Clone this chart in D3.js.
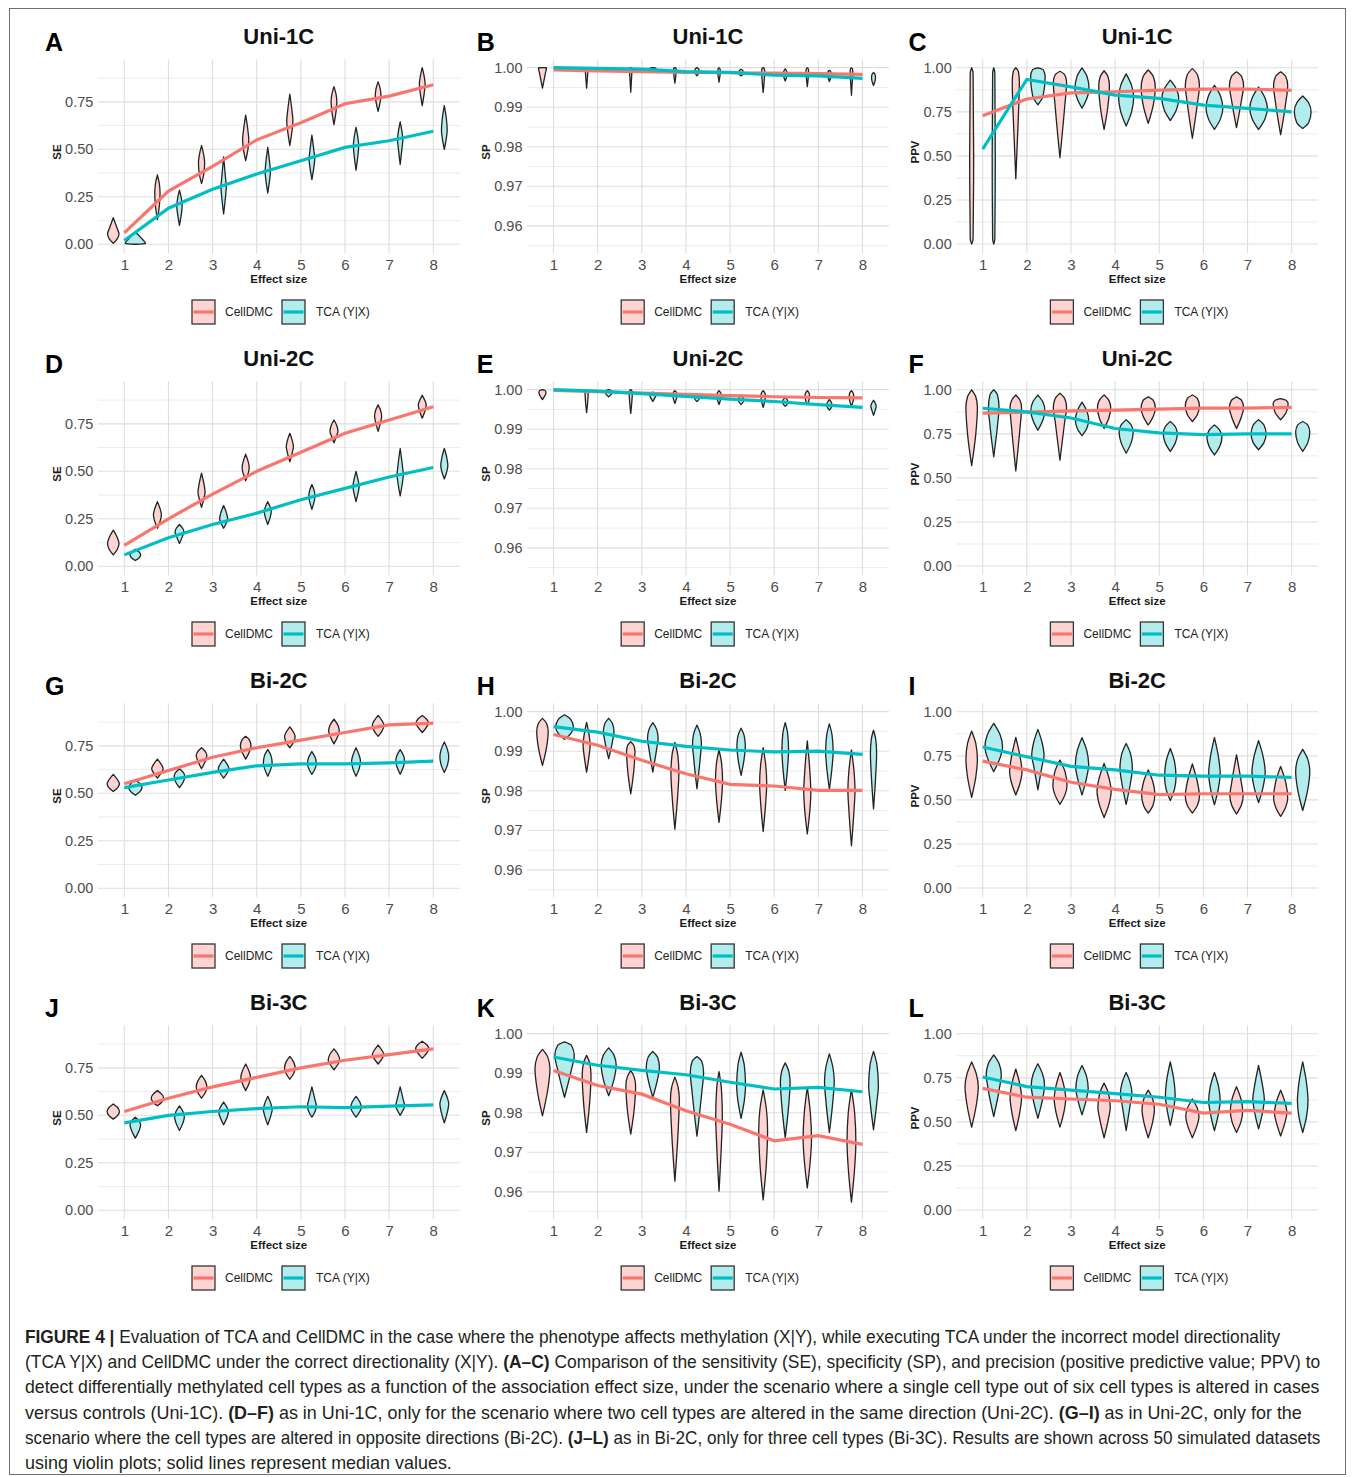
<!DOCTYPE html>
<html><head><meta charset="utf-8">
<script src="https://cdn.jsdelivr.net/npm/d3@7"></script>
<style>
body{margin:0;background:#fff;}
svg{display:block;font-family:"Liberation Sans",Arial,sans-serif;}
</style></head><body>
<svg id="fig" width="1355" height="1477"></svg>
<script>
// ---------------- DATA ----------------
const effectSizes = [1, 2, 3, 4, 5, 6, 7, 8];
const methods = ["CellDMC", "TCA (Y|X)"];
const panelLetters = ["A","B","C","D","E","F","G","H","I","J","K","L"];
const scenarios = ["Uni-1C","Uni-1C","Uni-1C","Uni-2C","Uni-2C","Uni-2C","Bi-2C","Bi-2C","Bi-2C","Bi-3C","Bi-3C","Bi-3C"];
const metrics = ["SE","SP","PPV"];
const xAxisTitle = "Effect size";
const seTicks = [0, 0.25, 0.5, 0.75];
const spTicks = [0.96, 0.97, 0.98, 0.99, 1.00];
const ppvTicks = [0, 0.25, 0.5, 0.75, 1.00];

// medians (solid lines)
const medA_cell = [0.06, 0.28, 0.41, 0.55, 0.64, 0.74, 0.78, 0.84];
const medA_tca  = [0.02, 0.19, 0.29, 0.37, 0.44, 0.51, 0.545, 0.595];
const medB_cell = [0.9994, 0.9992, 0.999, 0.9988, 0.9987, 0.9986, 0.9985, 0.9983];
const medB_tca  = [1.0, 0.9998, 0.9996, 0.999, 0.9988, 0.9981, 0.9979, 0.9973];
const medC_cell = [0.728, 0.823, 0.858, 0.864, 0.873, 0.879, 0.879, 0.872];
const medC_tca  = [0.539, 0.934, 0.892, 0.845, 0.826, 0.788, 0.77, 0.75];
const medD_cell = [0.11, 0.25, 0.38, 0.50, 0.60, 0.70, 0.77, 0.84];
const medD_tca  = [0.06, 0.15, 0.22, 0.28, 0.35, 0.41, 0.47, 0.52];
const medE_cell = [0.9998, 0.9995, 0.9991, 0.9988, 0.9985, 0.9982, 0.998, 0.9979];
const medE_tca  = [1.0, 0.9996, 0.999, 0.9983, 0.9976, 0.997, 0.9962, 0.9955];
const medF_cell = [0.868, 0.873, 0.88, 0.885, 0.89, 0.896, 0.896, 0.9];
const medF_tca  = [0.895, 0.875, 0.84, 0.78, 0.755, 0.745, 0.75, 0.75];
const medG_cell = [0.55, 0.62, 0.69, 0.74, 0.78, 0.82, 0.86, 0.87];
const medG_tca  = [0.53, 0.57, 0.61, 0.645, 0.655, 0.655, 0.66, 0.67];
const medH_cell = [0.9942, 0.9915, 0.9877, 0.9843, 0.9816, 0.9812, 0.9801, 0.9801];
const medH_tca  = [0.9962, 0.9948, 0.9925, 0.9912, 0.9903, 0.9898, 0.99, 0.9892];
const medI_cell = [0.72, 0.67, 0.60, 0.56, 0.53, 0.535, 0.535, 0.535];
const medI_tca  = [0.80, 0.745, 0.69, 0.67, 0.64, 0.635, 0.635, 0.628];
const medJ_cell = [0.52, 0.59, 0.65, 0.70, 0.75, 0.79, 0.82, 0.85];
const medJ_tca  = [0.46, 0.50, 0.52, 0.535, 0.545, 0.54, 0.548, 0.555];
const medK_cell = [0.9907, 0.9869, 0.9847, 0.9805, 0.9771, 0.9729, 0.9742, 0.972];
const medK_tca  = [0.9941, 0.992, 0.9907, 0.9896, 0.9877, 0.986, 0.9864, 0.9853];
const medL_cell = [0.69, 0.64, 0.63, 0.62, 0.60, 0.55, 0.565, 0.55];
const medL_tca  = [0.755, 0.70, 0.68, 0.66, 0.64, 0.61, 0.615, 0.605];

// violins: [min, lower shoulder, densest value, upper shoulder, max, max half-width (x units)]
const vioA_cell = [[0.005,0.03,0.055,0.08,0.14,0.13],[0.13,0.2,0.27,0.32,0.365,0.06],[0.32,0.37,0.43,0.47,0.52,0.07],[0.44,0.5,0.55,0.6,0.68,0.07],[0.52,0.6,0.65,0.7,0.79,0.07],[0.63,0.7,0.75,0.79,0.83,0.065],[0.70,0.75,0.78,0.82,0.855,0.065],[0.73,0.8,0.845,0.88,0.93,0.065]];
const vioA_tca  = [[0,0.002,0.004,0.025,0.065,0.23],[0.1,0.16,0.2,0.24,0.285,0.06],[0.16,0.25,0.3,0.35,0.46,0.06],[0.27,0.34,0.38,0.43,0.51,0.06],[0.34,0.41,0.45,0.49,0.575,0.065],[0.39,0.47,0.52,0.56,0.615,0.06],[0.42,0.51,0.55,0.59,0.645,0.06],[0.5,0.56,0.6,0.66,0.73,0.065]];
const vioB_cell = [[0.9948,0.9985,0.99993,0.99997,1.0,0.09],[0.9948,0.998,0.9998,0.99995,1.0,0.03],[0.9938,0.998,0.9998,0.99995,1.0,0.03],[0.9961,0.998,0.9995,0.9999,1.0,0.03],[0.9963,0.998,0.999,0.9997,1.0,0.03],[0.9937,0.997,0.999,0.9997,1.0,0.035],[0.9952,0.9975,0.999,0.9997,1.0,0.03],[0.993,0.997,0.999,0.9997,1.0,0.03]];
const vioB_tca  = [[0.9998,0.99985,0.9999,0.99995,1.0,0.12],[0.9997,0.9998,0.9999,0.99995,1.0,0.13],[0.9994,0.9997,0.99985,0.99995,1.0,0.07],[0.9979,0.9985,0.9992,0.9997,1.0,0.05],[0.9979,0.9983,0.9988,0.9993,0.9996,0.05],[0.9966,0.9975,0.9985,0.9992,0.9997,0.04],[0.9965,0.9975,0.9983,0.999,0.9993,0.04],[0.9955,0.9965,0.9975,0.9983,0.9988,0.045]];
const vioC_cell = [[0,0.03,0.5,0.97,1.0,0.045],[0.37,0.72,0.92,0.98,1.0,0.08],[0.49,0.78,0.92,0.96,0.98,0.15],[0.65,0.78,0.9,0.95,0.983,0.12],[0.685,0.79,0.89,0.95,0.987,0.16],[0.6,0.8,0.9,0.96,0.995,0.16],[0.66,0.82,0.9,0.95,0.977,0.16],[0.62,0.8,0.9,0.95,0.977,0.16]];
const vioC_tca  = [[0,0.03,0.5,0.97,1.0,0.035],[0.79,0.84,0.95,0.99,1.0,0.165],[0.77,0.83,0.88,0.95,1.0,0.16],[0.67,0.75,0.83,0.9,0.965,0.17],[0.70,0.76,0.83,0.88,0.93,0.19],[0.65,0.71,0.77,0.84,0.9,0.19],[0.65,0.71,0.77,0.83,0.89,0.2],[0.656,0.69,0.75,0.8,0.84,0.19]];
const vioD_cell = [[0.06,0.09,0.12,0.15,0.19,0.13],[0.2,0.24,0.27,0.3,0.34,0.09],[0.31,0.36,0.39,0.43,0.49,0.08],[0.45,0.49,0.52,0.55,0.59,0.08],[0.55,0.6,0.63,0.66,0.7,0.08],[0.65,0.69,0.71,0.74,0.77,0.09],[0.71,0.76,0.79,0.82,0.85,0.08],[0.78,0.82,0.85,0.87,0.9,0.09]];
const vioD_tca  = [[0.03,0.045,0.06,0.075,0.09,0.12],[0.12,0.16,0.18,0.2,0.22,0.1],[0.2,0.23,0.25,0.28,0.32,0.09],[0.22,0.26,0.29,0.31,0.34,0.08],[0.3,0.34,0.37,0.4,0.43,0.07],[0.34,0.39,0.42,0.45,0.5,0.07],[0.37,0.44,0.48,0.53,0.62,0.07],[0.46,0.5,0.53,0.57,0.62,0.08]];
const vioE_cell = [[0.9975,0.9985,0.9993,0.9998,1.0,0.08],[0.9942,0.997,0.999,0.9997,1.0,0.035],[0.994,0.997,0.999,0.9997,1.0,0.035],[0.9965,0.9978,0.9988,0.9993,0.9997,0.05],[0.9962,0.9975,0.9985,0.9992,0.9997,0.05],[0.9955,0.997,0.9985,0.9992,0.9997,0.05],[0.9962,0.9972,0.9985,0.9992,0.9997,0.05],[0.9958,0.997,0.9985,0.9992,0.9997,0.05]];
const vioE_tca  = [[0.9997,0.9998,0.9999,0.99995,1.0,0.12],[0.9982,0.9988,0.9994,0.9998,1.0,0.08],[0.997,0.998,0.9985,0.999,0.9994,0.07],[0.997,0.9975,0.998,0.9985,0.999,0.06],[0.9962,0.9968,0.9974,0.998,0.9985,0.06],[0.9958,0.9963,0.997,0.9975,0.998,0.06],[0.9948,0.9955,0.9962,0.9968,0.9975,0.06],[0.9935,0.995,0.9958,0.9965,0.9973,0.06]];
const vioF_cell = [[0.57,0.75,0.9,0.96,1.0,0.13],[0.54,0.78,0.9,0.94,0.97,0.13],[0.6,0.82,0.9,0.95,0.98,0.15],[0.78,0.84,0.9,0.94,0.97,0.15],[0.8,0.85,0.9,0.94,0.96,0.16],[0.82,0.86,0.91,0.95,0.97,0.16],[0.78,0.85,0.9,0.94,0.96,0.16],[0.83,0.87,0.92,0.94,0.95,0.17]];
const vioF_tca  = [[0.62,0.8,0.9,0.97,1.0,0.12],[0.77,0.83,0.88,0.93,0.97,0.16],[0.74,0.78,0.83,0.88,0.93,0.15],[0.64,0.7,0.76,0.8,0.83,0.16],[0.65,0.7,0.75,0.79,0.82,0.16],[0.63,0.68,0.73,0.77,0.8,0.17],[0.66,0.7,0.75,0.8,0.83,0.17],[0.65,0.7,0.76,0.8,0.82,0.16]];
const vioG_cell = [[0.51,0.53,0.55,0.57,0.6,0.14],[0.58,0.61,0.63,0.65,0.68,0.13],[0.63,0.67,0.7,0.72,0.74,0.12],[0.68,0.72,0.75,0.78,0.8,0.12],[0.74,0.77,0.8,0.82,0.85,0.12],[0.76,0.8,0.83,0.86,0.89,0.12],[0.8,0.83,0.86,0.88,0.91,0.13],[0.82,0.85,0.87,0.89,0.91,0.14]];
const vioG_tca  = [[0.49,0.51,0.53,0.55,0.57,0.15],[0.53,0.56,0.59,0.61,0.63,0.12],[0.58,0.61,0.63,0.65,0.68,0.12],[0.59,0.63,0.66,0.7,0.73,0.1],[0.6,0.63,0.66,0.69,0.72,0.1],[0.59,0.63,0.67,0.7,0.74,0.1],[0.6,0.64,0.67,0.7,0.73,0.1],[0.61,0.65,0.69,0.73,0.77,0.1]];
const vioH_cell = [[0.9864,0.991,0.995,0.997,0.9983,0.13],[0.9847,0.989,0.9915,0.994,0.9973,0.08],[0.9792,0.985,0.99,0.9915,0.9924,0.095],[0.9703,0.979,0.9845,0.989,0.9922,0.09],[0.972,0.978,0.9826,0.987,0.9903,0.08],[0.9697,0.977,0.9818,0.9865,0.9909,0.08],[0.9691,0.975,0.9795,0.985,0.9926,0.08],[0.9661,0.975,0.98,0.985,0.9903,0.08]];
const vioH_tca  = [[0.993,0.9945,0.9962,0.998,0.9992,0.2],[0.9881,0.9925,0.995,0.997,0.9983,0.12],[0.9847,0.9905,0.9932,0.9955,0.9972,0.12],[0.9805,0.988,0.992,0.9945,0.9966,0.1],[0.9839,0.988,0.9915,0.994,0.9958,0.095],[0.9801,0.986,0.9903,0.9945,0.9972,0.075],[0.9803,0.986,0.99,0.994,0.9969,0.085],[0.9754,0.984,0.9894,0.993,0.9953,0.07]];
const vioI_cell = [[0.515,0.63,0.73,0.82,0.89,0.13],[0.528,0.6,0.66,0.74,0.855,0.14],[0.475,0.53,0.58,0.66,0.726,0.16],[0.4,0.48,0.55,0.62,0.707,0.16],[0.425,0.47,0.53,0.6,0.67,0.15],[0.425,0.47,0.52,0.6,0.704,0.16],[0.42,0.47,0.52,0.6,0.755,0.15],[0.406,0.46,0.51,0.6,0.689,0.16]];
const vioI_tca  = [[0.66,0.74,0.8,0.87,0.934,0.2],[0.557,0.7,0.75,0.82,0.9,0.14],[0.528,0.63,0.7,0.78,0.853,0.15],[0.475,0.6,0.68,0.76,0.82,0.14],[0.496,0.56,0.63,0.72,0.792,0.13],[0.472,0.57,0.65,0.74,0.853,0.13],[0.485,0.58,0.66,0.74,0.836,0.15],[0.44,0.56,0.66,0.73,0.787,0.16]];
const vioJ_cell = [[0.48,0.5,0.52,0.54,0.56,0.14],[0.55,0.57,0.59,0.61,0.63,0.14],[0.59,0.62,0.65,0.68,0.71,0.12],[0.63,0.67,0.7,0.73,0.77,0.11],[0.69,0.72,0.75,0.78,0.81,0.12],[0.74,0.77,0.79,0.82,0.85,0.13],[0.77,0.8,0.82,0.84,0.87,0.13],[0.8,0.83,0.85,0.87,0.89,0.15]];
const vioJ_tca  = [[0.38,0.42,0.45,0.47,0.49,0.12],[0.42,0.46,0.49,0.52,0.55,0.11],[0.45,0.49,0.52,0.54,0.57,0.11],[0.45,0.5,0.53,0.56,0.6,0.1],[0.49,0.52,0.55,0.58,0.65,0.1],[0.49,0.52,0.54,0.57,0.6,0.12],[0.5,0.53,0.55,0.58,0.65,0.1],[0.46,0.52,0.56,0.59,0.63,0.1]];
const vioK_cell = [[0.9792,0.986,0.9911,0.994,0.996,0.17],[0.975,0.983,0.9895,0.9925,0.9945,0.1],[0.9746,0.981,0.9869,0.989,0.9907,0.11],[0.9627,0.975,0.9835,0.9865,0.989,0.1],[0.9602,0.972,0.979,0.986,0.9904,0.075],[0.958,0.967,0.9758,0.981,0.9858,0.1],[0.961,0.968,0.9733,0.98,0.9864,0.095],[0.9574,0.966,0.9725,0.98,0.9858,0.1]];
const vioK_tca  = [[0.9839,0.991,0.9945,0.997,0.9979,0.22],[0.9843,0.9885,0.992,0.9945,0.9964,0.17],[0.9839,0.9885,0.9915,0.994,0.9955,0.15],[0.9741,0.985,0.9903,0.993,0.9942,0.15],[0.9786,0.983,0.9869,0.992,0.9953,0.1],[0.9737,0.982,0.9877,0.9905,0.9926,0.11],[0.975,0.983,0.9881,0.9915,0.9949,0.11],[0.9757,0.983,0.9869,0.992,0.9955,0.11]];
const vioL_cell = [[0.47,0.6,0.7,0.77,0.84,0.15],[0.45,0.56,0.64,0.71,0.8,0.13],[0.47,0.56,0.63,0.7,0.78,0.13],[0.41,0.52,0.58,0.66,0.72,0.14],[0.41,0.5,0.57,0.63,0.68,0.14],[0.41,0.48,0.53,0.58,0.63,0.15],[0.44,0.5,0.56,0.63,0.7,0.14],[0.42,0.5,0.55,0.61,0.68,0.14]];
const vioL_tca  = [[0.53,0.68,0.77,0.83,0.88,0.17],[0.52,0.63,0.71,0.77,0.83,0.15],[0.54,0.63,0.69,0.76,0.82,0.14],[0.45,0.6,0.66,0.72,0.78,0.13],[0.48,0.58,0.65,0.74,0.84,0.11],[0.45,0.55,0.62,0.7,0.78,0.13],[0.46,0.56,0.63,0.7,0.82,0.13],[0.44,0.53,0.62,0.72,0.84,0.12]];

const captionLines = [
  [["FIGURE 4 | ",1],["Evaluation of TCA and CellDMC in the case where the phenotype affects methylation (X|Y), while executing TCA under the incorrect model directionality",0]],
  [["(TCA Y|X) and CellDMC under the correct directionality (X|Y). ",0],["(A–C)",1],[" Comparison of the sensitivity (SE), specificity (SP), and precision (positive predictive value; PPV) to",0]],
  [["detect differentially methylated cell types as a function of the association effect size, under the scenario where a single cell type out of six cell types is altered in cases",0]],
  [["versus controls (Uni-1C). ",0],["(D–F)",1],[" as in Uni-1C, only for the scenario where two cell types are altered in the same direction (Uni-2C). ",0],["(G–I)",1],[" as in Uni-2C, only for the",0]],
  [["scenario where the cell types are altered in opposite directions (Bi-2C). ",0],["(J–L)",1],[" as in Bi-2C, only for three cell types (Bi-3C). Results are shown across 50 simulated datasets",0]],
  [["using violin plots; solid lines represent median values.",0]]
];
const captionWidths = [1256, 1296, 1296, 1278, 1296, 427];

// ---------------- TABLE ----------------
const medCell = {A:medA_cell,B:medB_cell,C:medC_cell,D:medD_cell,E:medE_cell,F:medF_cell,G:medG_cell,H:medH_cell,I:medI_cell,J:medJ_cell,K:medK_cell,L:medL_cell};
const medTca  = {A:medA_tca,B:medB_tca,C:medC_tca,D:medD_tca,E:medE_tca,F:medF_tca,G:medG_tca,H:medH_tca,I:medI_tca,J:medJ_tca,K:medK_tca,L:medL_tca};
const vioCell = {A:vioA_cell,B:vioB_cell,C:vioC_cell,D:vioD_cell,E:vioE_cell,F:vioF_cell,G:vioG_cell,H:vioH_cell,I:vioI_cell,J:vioJ_cell,K:vioK_cell,L:vioL_cell};
const vioTca  = {A:vioA_tca,B:vioB_tca,C:vioC_tca,D:vioD_tca,E:vioE_tca,F:vioF_tca,G:vioG_tca,H:vioH_tca,I:vioI_tca,J:vioJ_tca,K:vioK_tca,L:vioL_tca};

// ---------------- STYLE / LAYOUT ----------------
const colors = {cell:"#F8766D", tca:"#00BFC4"};
const fills = {cell:"#FDD4D1", tca:"#B2ECED"};
const colX1 = [124.3, 553.5, 982.7];
const unitPx = 44.14;
const rowStep = 322, top0 = 59.3, bot0 = 253.2;
const domains = {SE:[-0.047, 0.974], SP:[0.9531, 1.0021], PPV:[-0.052, 1.048]};
const tickSets = {SE:seTicks, SP:spTicks, PPV:ppvTicks};
const shoulder = 0.72;

const svg = d3.select("#fig");
svg.append("rect").attr("width",1355).attr("height",1477).attr("fill","#fff");
svg.append("rect").attr("x",9.5).attr("y",8.5).attr("width",1336).attr("height",1466)
  .attr("fill","none").attr("stroke","#6e6e6e").attr("stroke-width",1);

panelLetters.forEach((L, i) => {
  const col = i % 3, row = Math.floor(i / 3);
  const metric = metrics[col];
  const x1 = colX1[col];
  const top = top0 + row * rowStep, bottom = bot0 + row * rowStep;
  const xs = d3.scaleLinear().domain([0.4, 8.6]).range([x1 - 0.6 * unitPx, x1 + 7.6 * unitPx]);
  const ys = d3.scaleLinear().domain(domains[metric]).range([bottom, top]);
  const g = svg.append("g");
  const left = xs.range()[0], right = xs.range()[1], cx = (left + right) / 2;

  // grid
  const ticks = tickSets[metric];
  const step = ticks[1] - ticks[0];
  const dom = domains[metric];
  const minor = [];
  for (let k = 0; k < ticks.length - 1; k++) minor.push((ticks[k] + ticks[k+1]) / 2);
  if (ticks[0] - step/2 >= dom[0]) minor.push(ticks[0] - step/2);
  if (ticks[ticks.length-1] + step/2 <= dom[1]) minor.push(ticks[ticks.length-1] + step/2);
  g.selectAll(".minor").data(minor).join("line")
    .attr("x1", left).attr("x2", right).attr("y1", d => ys(d)).attr("y2", d => ys(d))
    .attr("stroke", "#e6e6e6").attr("stroke-width", 0.8);
  g.selectAll(".hmaj").data(ticks).join("line")
    .attr("x1", left).attr("x2", right).attr("y1", d => ys(d)).attr("y2", d => ys(d))
    .attr("stroke", "#dedede").attr("stroke-width", 1.1);
  g.selectAll(".vmaj").data(effectSizes).join("line")
    .attr("x1", d => xs(d)).attr("x2", d => xs(d)).attr("y1", top).attr("y2", bottom)
    .attr("stroke", "#dedede").attr("stroke-width", 1.1);

  // violins
  const drawViolins = (vios, off, key) => {
    vios.forEach((v, j) => {
      const c = xs(effectSizes[j] + off);
      const hw = v[5] * unitPx;
      const prof = [[v[0],0],[v[1],shoulder],[v[2],1],[v[3],shoulder],[v[4],0]];
      for (let k = 1; k < prof.length; k++) if (prof[k][0] <= prof[k-1][0]) prof[k][0] = prof[k-1][0] + 1e-6;
      const area = d3.area()
        .y(d => ys(d[0]))
        .x0(d => c - d[1] * hw)
        .x1(d => c + d[1] * hw)
        .curve(d3.curveMonotoneY);
      g.append("path").attr("d", area(prof))
        .attr("fill", fills[key]).attr("stroke", "#222").attr("stroke-width", 1.3)
        .attr("stroke-linejoin", "round");
    });
  };
  drawViolins(vioCell[L], -0.25, "cell");
  drawViolins(vioTca[L], 0.25, "tca");

  // median lines
  const line = d3.line().x((d, j) => xs(effectSizes[j])).y(d => ys(d));
  g.append("path").attr("d", line(medCell[L])).attr("fill","none")
    .attr("stroke", colors.cell).attr("stroke-width", 3.2);
  g.append("path").attr("d", line(medTca[L])).attr("fill","none")
    .attr("stroke", colors.tca).attr("stroke-width", 3.2);

  // axes
  const yAxis = d3.axisLeft(ys).tickValues(ticks).tickFormat(d3.format(".2f")).tickSize(0).tickPadding(4.5);
  const ya = g.append("g").attr("transform", `translate(${left},0)`).call(yAxis);
  ya.select(".domain").remove();
  ya.selectAll("text").attr("font-size", 14.5).attr("fill", "#4d4d4d")
    .attr("font-family", '"Liberation Sans",Arial,sans-serif');
  const xAxis = d3.axisBottom(xs).tickValues(effectSizes).tickFormat(d3.format("d")).tickSize(0).tickPadding(6);
  const xa = g.append("g").attr("transform", `translate(0,${bottom})`).call(xAxis);
  xa.select(".domain").remove();
  xa.selectAll("text").attr("font-size", 15).attr("fill", "#4d4d4d")
    .attr("font-family", '"Liberation Sans",Arial,sans-serif');

  g.append("text").attr("x", cx).attr("y", 283 + row * rowStep).attr("text-anchor", "middle")
    .attr("font-size", 11.5).attr("font-weight", "bold").attr("fill", "#1a1a1a").text(xAxisTitle);
  g.append("text").attr("transform", `translate(${left - 37},${152 + row * rowStep}) rotate(-90)`)
    .attr("text-anchor", "middle").attr("font-size", 11.5).attr("font-weight", "bold")
    .attr("fill", "#1a1a1a").text(metric);

  // titles
  g.append("text").attr("x", cx).attr("y", 44 + row * rowStep).attr("text-anchor", "middle")
    .attr("font-size", 22).attr("font-weight", "bold").attr("fill", "#111").text(scenarios[i]);
  g.append("text").attr("x", 45 + col * 431.7).attr("y", 51 + row * rowStep)
    .attr("font-size", 25).attr("font-weight", "bold").attr("fill", "#000").text(L);

  // legend
  const ly = 312 + row * rowStep;
  const keys = [{k:"cell", dx:-86.8, tx:-53.8}, {k:"tca", dx:3.2, tx:37.2}];
  keys.forEach((kk, m) => {
    g.append("rect").attr("x", cx + kk.dx).attr("y", ly - 12).attr("width", 23).attr("height", 24)
      .attr("fill", fills[kk.k]).attr("stroke", "#333").attr("stroke-width", 1.3);
    g.append("line").attr("x1", cx + kk.dx + 1.5).attr("x2", cx + kk.dx + 21.5)
      .attr("y1", ly).attr("y2", ly).attr("stroke", colors[kk.k]).attr("stroke-width", 3.2);
    g.append("text").attr("x", cx + kk.tx).attr("y", ly + 4.3).attr("font-size", 12)
      .attr("fill", "#222").text(methods[m]);
  });
});

// caption: natural text, horizontally condensed to the measured line width
captionLines.forEach((segs, i) => {
  const y = 1343 + i * 25.2;
  const t = svg.append("text").attr("x", 0).attr("y", 0)
    .attr("font-size", 17.5).attr("fill", "#231f20");
  segs.forEach(s => t.append("tspan").attr("font-weight", s[1] ? "bold" : "normal").text(s[0]));
  const w = t.node().getComputedTextLength();
  const sx = captionWidths[i] / w;
  t.attr("transform", `translate(25,${y}) scale(${sx},1)`);
});
</script>
</body></html>
